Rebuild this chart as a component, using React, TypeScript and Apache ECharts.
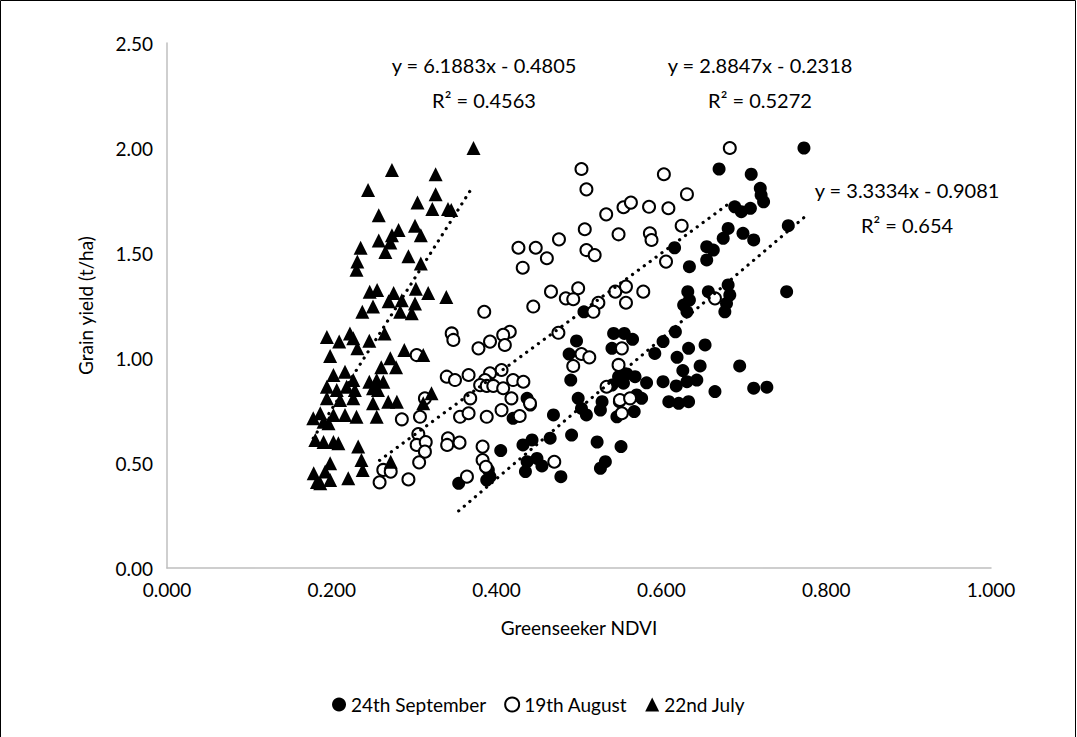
import React, { useEffect, useRef } from "react";
import * as echarts from "echarts";

const seriesNames = ["24th September", "19th August", "22nd July"];

const sept: number[][] = [
  [0.354, 0.403], [0.405, 0.559], [0.432, 0.586], [0.443, 0.61], [0.465, 0.618], [0.491, 0.633],
  [0.522, 0.6], [0.551, 0.578], [0.532, 0.506], [0.526, 0.475], [0.437, 0.506], [0.449, 0.522],
  [0.455, 0.486], [0.435, 0.459], [0.478, 0.435], [0.39, 0.467], [0.388, 0.419], [0.392, 0.435],
  [0.506, 1.22], [0.497, 1.081], [0.488, 1.019], [0.49, 0.895], [0.542, 1.117], [0.555, 1.117],
  [0.565, 1.089], [0.54, 1.046], [0.548, 0.911], [0.558, 0.924], [0.568, 0.911], [0.54, 0.871],
  [0.554, 0.88], [0.437, 0.808], [0.441, 0.776], [0.42, 0.713], [0.499, 0.808], [0.503, 0.76],
  [0.509, 0.729], [0.469, 0.729], [0.528, 0.792], [0.526, 0.752], [0.546, 0.72], [0.549, 0.792],
  [0.567, 0.745], [0.57, 0.824],
  [0.752, 1.316], [0.632, 1.316], [0.634, 1.276], [0.657, 1.316], [0.681, 1.348], [0.683, 1.3],
  [0.679, 1.26], [0.677, 1.22], [0.627, 1.252], [0.631, 1.22], [0.617, 1.125], [0.602, 1.078],
  [0.592, 1.022], [0.633, 1.046], [0.653, 1.062], [0.619, 1.003], [0.647, 0.962], [0.626, 0.94],
  [0.695, 0.962], [0.582, 0.882], [0.602, 0.887], [0.618, 0.867], [0.631, 0.887], [0.643, 0.895],
  [0.665, 0.84], [0.712, 0.856], [0.728, 0.861], [0.576, 0.808], [0.609, 0.792], [0.621, 0.784],
  [0.633, 0.792],
  [0.67, 1.9], [0.709, 1.875], [0.72, 1.808], [0.721, 1.776], [0.724, 1.744], [0.689, 1.72],
  [0.697, 1.697], [0.708, 1.713], [0.754, 1.63], [0.681, 1.617], [0.675, 1.57], [0.699, 1.594],
  [0.712, 1.562], [0.655, 1.53], [0.663, 1.514], [0.655, 1.467], [0.616, 1.525], [0.634, 1.435],
  [0.773, 2.0],
];

const aug: number[][] = [
  [0.305, 0.638], [0.303, 0.586], [0.314, 0.6], [0.313, 0.554], [0.341, 0.618], [0.34, 0.586],
  [0.355, 0.597], [0.306, 0.503], [0.2625, 0.467], [0.2715, 0.459], [0.258, 0.408], [0.293, 0.422],
  [0.364, 0.435], [0.383, 0.578], [0.383, 0.514], [0.387, 0.482], [0.47, 0.506],
  [0.3455, 1.117], [0.3475, 1.086], [0.303, 1.014], [0.3395, 0.911], [0.3495, 0.895], [0.366, 0.919],
  [0.368, 0.808], [0.313, 0.808], [0.307, 0.72], [0.285, 0.708], [0.3556, 0.72], [0.366, 0.737],
  [0.466, 1.316], [0.499, 1.332], [0.484, 1.284], [0.493, 1.28], [0.544, 1.316], [0.557, 1.34],
  [0.557, 1.263], [0.5235, 1.263], [0.5175, 1.22], [0.385, 1.22], [0.4445, 1.245], [0.475, 1.12],
  [0.416, 1.125], [0.408, 1.11], [0.41, 1.062], [0.392, 1.078], [0.378, 1.046], [0.503, 1.019],
  [0.5125, 1.003], [0.493, 0.962], [0.552, 1.046], [0.548, 0.967], [0.406, 0.943], [0.392, 0.927],
  [0.386, 0.895], [0.38, 0.871], [0.42, 0.895], [0.4325, 0.887], [0.388, 0.867], [0.396, 0.867],
  [0.408, 0.856], [0.418, 0.808], [0.4405, 0.784], [0.406, 0.752], [0.388, 0.72], [0.428, 0.724],
  [0.5335, 0.863], [0.5497, 0.8], [0.562, 0.808], [0.552, 0.737],
  [0.578, 1.316], [0.665, 1.284],
  [0.683, 2.0], [0.603, 1.875], [0.631, 1.78], [0.585, 1.72], [0.6085, 1.713], [0.6246, 1.63],
  [0.586, 1.594], [0.588, 1.562], [0.6056, 1.459],
  [0.503, 1.9], [0.509, 1.803], [0.533, 1.684], [0.554, 1.718], [0.563, 1.74], [0.507, 1.613],
  [0.548, 1.589], [0.4757, 1.565], [0.4265, 1.525], [0.4475, 1.525], [0.461, 1.475], [0.4317, 1.43],
  [0.509, 1.514], [0.519, 1.49],
];

const july: number[][] = [
  [0.372, 2.0], [0.273, 1.895], [0.326, 1.875], [0.244, 1.8], [0.326, 1.78], [0.304, 1.74],
  [0.322, 1.71], [0.341, 1.71], [0.345, 1.705], [0.257, 1.68], [0.301, 1.63], [0.281, 1.61],
  [0.273, 1.585], [0.308, 1.585], [0.257, 1.56], [0.271, 1.55], [0.235, 1.525], [0.265, 1.505],
  [0.231, 1.46], [0.293, 1.485], [0.23, 1.42], [0.308, 1.45],
  [0.246, 1.316], [0.255, 1.324], [0.275, 1.31], [0.302, 1.33], [0.317, 1.31], [0.339, 1.29],
  [0.25, 1.245], [0.237, 1.22], [0.269, 1.27], [0.285, 1.275], [0.283, 1.22], [0.297, 1.213],
  [0.301, 1.26], [0.264, 1.117], [0.194, 1.1], [0.209, 1.078], [0.222, 1.117], [0.226, 1.094],
  [0.231, 1.046], [0.2455, 1.082], [0.198, 1.01], [0.288, 1.038], [0.311, 1.014], [0.271, 0.999],
  [0.26, 0.956], [0.278, 0.956], [0.202, 0.919], [0.216, 0.935], [0.226, 0.895], [0.2455, 0.887],
  [0.2545, 0.895], [0.2625, 0.887], [0.194, 0.863], [0.206, 0.848], [0.218, 0.863], [0.228, 0.848],
  [0.25, 0.856], [0.256, 0.848], [0.321, 0.832], [0.194, 0.808], [0.21, 0.8], [0.226, 0.808],
  [0.25, 0.784], [0.2685, 0.792], [0.279, 0.792], [0.311, 0.784], [0.186, 0.737], [0.202, 0.729],
  [0.216, 0.729], [0.23, 0.72], [0.2545, 0.72], [0.19, 0.697], [0.196, 0.689],
  [0.1775, 0.713], [0.18, 0.61], [0.178, 0.451], [0.182, 0.41],
  [0.19, 0.6], [0.202, 0.6], [0.208, 0.594], [0.232, 0.578], [0.198, 0.499], [0.192, 0.459],
  [0.198, 0.419], [0.186, 0.403], [0.236, 0.514], [0.2375, 0.467], [0.22, 0.427], [0.2715, 0.506],
];

// Trendline equations as printed on the chart
const slopes = [3.3334, 2.8847, 6.1883];
const intercepts = [-0.9081, -0.2318, -0.4805];
const eqTexts = ["y = 3.3334x - 0.9081", "y = 2.8847x - 0.2318", "y = 6.1883x - 0.4805"];
const r2Texts = ["R² = 0.654", "R² = 0.5272", "R² = 0.4563"];

const xTickDigits = 3;
const yTickDigits = 2;

const FONT = "Lato, 'Open Sans', sans-serif";

function trend(data: number[][], i: number) {
  const xs = data.map((d) => d[0]);
  const x0 = Math.min(...xs);
  const x1 = Math.max(...xs);
  return [
    [x0, slopes[i] * x0 + intercepts[i]],
    [x1, slopes[i] * x1 + intercepts[i]],
  ];
}

export default function App() {
  const ref = useRef<HTMLDivElement>(null);
  useEffect(() => {
    if (!ref.current) return;
    const chart = echarts.init(ref.current, undefined, { renderer: "svg" });
    const allData = [sept, aug, july];
    const dotted = { color: "#000", width: 3.2, type: [0.1, 7.2], cap: "round" as const };
    const labelPos = [
      { x: 907, y1: 190, y2: 225 },
      { x: 760, y1: 65, y2: 100 },
      { x: 484, y1: 65, y2: 100 },
    ];
    const graphics: any[] = [
      {
        type: "rect",
        shape: { x: 0.5, y: 0.5, width: 1075, height: 780 },
        style: { fill: "none", stroke: "#000", lineWidth: 1 },
        silent: true,
      },
    ];
    labelPos.forEach((p, i) => {
      graphics.push({
        type: "text",
        x: p.x,
        y: p.y1,
        style: { text: eqTexts[i], fontSize: 20, fontFamily: FONT, fill: "#000", textAlign: "center", textVerticalAlign: "middle" },
      });
      graphics.push({
        type: "text",
        x: p.x,
        y: p.y2,
        style: { text: r2Texts[i], fontSize: 20, fontFamily: FONT, fill: "#000", textAlign: "center", textVerticalAlign: "middle" },
      });
    });
    const option: any = {
      animation: false,
      backgroundColor: "#fff",
      textStyle: { fontFamily: FONT },
      grid: { left: 167, right: 86, top: 43, bottom: 169, containLabel: false },
      xAxis: {
        type: "value",
        min: 0,
        max: 1,
        interval: 0.2,
        axisLine: { show: true, lineStyle: { color: "#BFBFBF", width: 1.5 } },
        axisTick: { show: false },
        splitLine: { show: false },
        axisLabel: { formatter: (v: number) => v.toFixed(xTickDigits), fontSize: 19, color: "#000", margin: 12, fontFamily: FONT },
        name: "Greenseeker NDVI",
        nameLocation: "middle",
        nameGap: 50,
        nameTextStyle: { fontSize: 19, color: "#000", fontFamily: FONT },
      },
      yAxis: {
        type: "value",
        min: 0,
        max: 2.5,
        interval: 0.5,
        axisLine: { show: true, lineStyle: { color: "#BFBFBF", width: 1.5 } },
        axisTick: { show: false },
        splitLine: { show: false },
        axisLabel: { formatter: (v: number) => v.toFixed(yTickDigits), fontSize: 19, color: "#000", margin: 14, fontFamily: FONT },
        name: "Grain yield (t/ha)",
        nameLocation: "middle",
        nameGap: 72,
        nameTextStyle: { fontSize: 19, color: "#000", fontFamily: FONT },
      },
      legend: {
        data: seriesNames,
        bottom: 18,
        left: "center",
        itemGap: 18,
        itemWidth: 14,
        itemHeight: 14,
        textStyle: { fontSize: 19, color: "#000", fontFamily: FONT },
      },
      graphic: graphics,
      series: [
        {
          name: seriesNames[0],
          type: "scatter",
          data: sept,
          symbol: "circle",
          symbolSize: 13,
          itemStyle: { color: "#000", opacity: 1 },
          z: 2,
        },
        {
          name: seriesNames[1],
          type: "scatter",
          data: aug,
          symbol: "circle",
          symbolSize: 12,
          itemStyle: { color: "#fff", borderColor: "#000", borderWidth: 2, opacity: 1 },
          z: 3,
        },
        {
          name: seriesNames[2],
          type: "scatter",
          data: july,
          symbol: "triangle",
          symbolSize: 14,
          itemStyle: { color: "#000", opacity: 1 },
          z: 4,
        },
        ...allData.map((d, i) => ({
          type: "line",
          data: trend(d, i),
          showSymbol: false,
          symbol: "none",
          lineStyle: dotted,
          z: 5,
          silent: true,
        })),
      ],
    };
    chart.setOption(option);
    return () => chart.dispose();
  }, []);
  return (
    <div
      ref={ref}
      style={{ position: "absolute", left: 0, top: 0, width: 1077, height: 737, background: "#fff" }}
    />
  );
}
